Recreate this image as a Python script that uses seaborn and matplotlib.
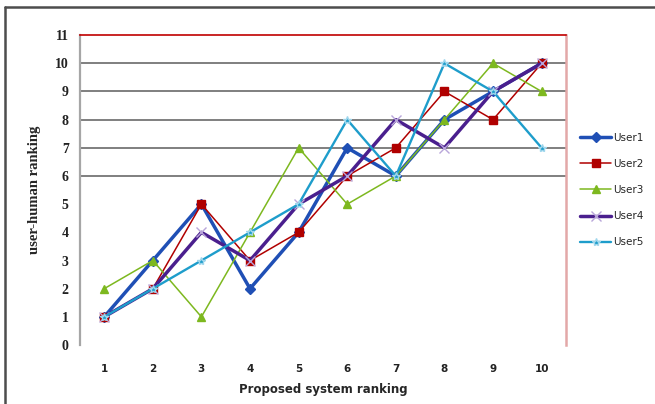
import matplotlib
matplotlib.use("Agg")
import matplotlib.pyplot as plt
import seaborn as sns
import pandas as pd
from matplotlib.lines import Line2D

# Rankings given by each user for the system's ranked items 1..10
system_rank = [1, 2, 3, 4, 5, 6, 7, 8, 9, 10]
user1 = [1, 3, 5, 2, 4, 7, 6, 8, 9, 10]
user2 = [1, 2, 5, 3, 4, 6, 7, 9, 8, 10]
user3 = [2, 3, 1, 4, 7, 5, 6, 8, 10, 9]
user4 = [1, 2, 4, 3, 5, 6, 8, 7, 9, 10]
user5 = [1, 2, 3, 4, 5, 8, 6, 10, 9, 7]
users = ["User1", "User2", "User3", "User4", "User5"]
y_ticks = list(range(0, 12))
grid_levels = [6, 7, 8, 9, 10]

series = dict(zip(users, [user1, user2, user3, user4, user5]))
df = pd.DataFrame(
    [(u, x, y) for u, vals in series.items() for x, y in zip(system_rank, vals)],
    columns=["user", "system", "human"],
)

sns.set_theme(style="white")
plt.rcParams["font.family"] = ["DejaVu Sans"]

styles = {
    "User1": dict(color="#1F4FB5", marker="D", lw=2.5, ms=5, mec="#1F4FB5"),
    "User2": dict(color="#B00000", marker="s", lw=1.1, ms=5.5, mec="#B00000"),
    "User3": dict(color="#7DB81F", marker="^", lw=1.1, ms=5.5, mec="#7DB81F"),
    "User4": dict(color="#4A1F8E", marker="x", lw=2.5, ms=7, mec="#B9A6DA"),
    "User5": dict(color="#1E9DCB", marker="*", lw=1.7, ms=6, mec="#9ED6EC"),
}

fig = plt.figure(figsize=(6.55, 4.04), dpi=100)
ax = fig.add_axes([0.122, 0.146, 0.742, 0.767])

ax.hlines(grid_levels, 0.5, 10.5, colors="#7F7F7F", lw=1.4, zorder=1)

for u in users:
    st = styles[u]
    sns.lineplot(
        data=df[df.user == u], x="system", y="human", ax=ax,
        color=st["color"], lw=st["lw"], marker=st["marker"],
        markersize=st["ms"], markeredgecolor=st["mec"],
        markeredgewidth=1.0, label=u, zorder=3,
    )

ax.set_xlim(0.5, 10.5)
ax.set_ylim(0, 11)
ax.set_xticks(system_rank, labels=[str(v) for v in system_rank],
              fontsize=7.5, fontweight="bold")
ax.set_yticks(y_ticks, labels=[str(v) for v in y_ticks],
              fontsize=10, fontweight="bold", family="Liberation Serif")
ax.tick_params(axis="both", length=0, colors="#222222")
ax.tick_params(axis="x", pad=14)
ax.tick_params(axis="y", pad=8)

ax.set_xlabel("Proposed system ranking", fontsize=8.5, fontweight="bold", labelpad=6)
ax.set_ylabel("user-human ranking", fontsize=10.5, fontweight="bold",
              family="Liberation Serif", labelpad=10)

ax.spines["bottom"].set_visible(False)
ax.spines["left"].set_color("#A6A6A6")
ax.spines["left"].set_linewidth(1.6)
ax.spines["top"].set_color("#C00000")
ax.spines["top"].set_linewidth(1.2)
ax.spines["right"].set_color("#E3A8A8")
ax.spines["right"].set_linewidth(1.8)

ax.legend(loc="center left", bbox_to_anchor=(1.01, 0.5), frameon=False,
          fontsize=7.5, handlelength=3.0, labelspacing=1.55, handletextpad=0.2)

# Frame of the chart area: top and left edges only
fig.add_artist(Line2D([0.008, 1.0], [0.983, 0.983], transform=fig.transFigure,
                      color="#4D4D4D", lw=1.8))
fig.add_artist(Line2D([0.008, 0.008], [0.0, 0.983], transform=fig.transFigure,
                      color="#4D4D4D", lw=1.8))

fig.savefig("out.png", dpi=100)
